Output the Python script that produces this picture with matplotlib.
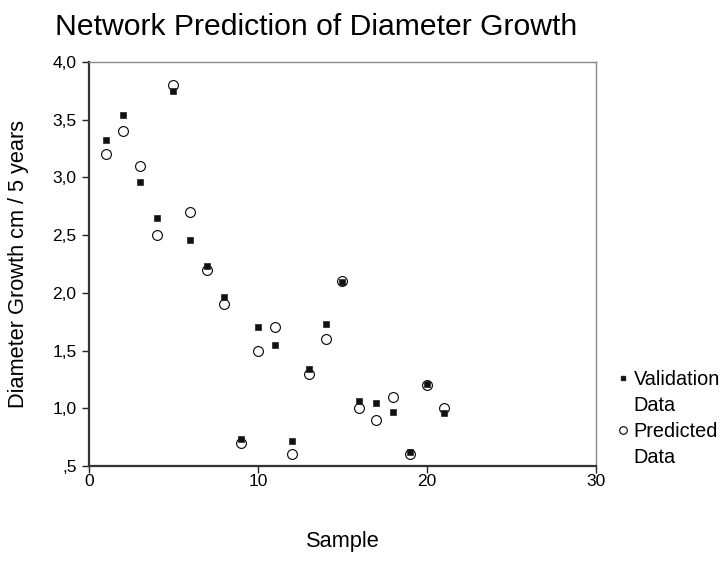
import numpy as np
import matplotlib
matplotlib.use("Agg")
import matplotlib.pyplot as plt
from matplotlib.lines import Line2D

plt.rcParams['font.family'] = ['Liberation Sans', 'DejaVu Sans']

# values
sample = [1, 2, 3, 4, 5, 6, 7, 8, 9, 10, 11, 12, 13, 14, 15, 16, 17, 18, 19, 20, 21]
validation = [3.32, 3.54, 2.96, 2.65, 3.75, 2.46, 2.23, 1.96, 0.73, 1.70, 1.55,
              0.72, 1.34, 1.73, 2.09, 1.06, 1.05, 0.97, 0.62, 1.21, 0.96]
predicted = [3.20, 3.40, 3.10, 2.50, 3.80, 2.70, 2.20, 1.90, 0.70, 1.50, 1.70,
             0.60, 1.30, 1.60, 2.10, 1.00, 0.90, 1.10, 0.60, 1.20, 1.00]

yticks = [0.5, 1.0, 1.5, 2.0, 2.5, 3.0, 3.5, 4.0]
ytick_labels = [',5', '1,0', '1,5', '2,0', '2,5', '3,0', '3,5', '4,0']
xticks = [0, 10, 20, 30]

fig = plt.figure(figsize=(7.23, 5.82), dpi=100)
ax = fig.add_axes([0.1231, 0.1993, 0.7012, 0.6942])

ax.scatter(sample, predicted, s=50, marker='o', facecolors='white',
           edgecolors='black', linewidths=0.8, zorder=2)
ax.scatter(sample, validation, s=18, marker='s', facecolors='#111111',
           edgecolors='#222222', linewidths=0.5, zorder=3)

ax.set_xlim(0, 30)
ax.set_ylim(0.5, 4.0)
ax.set_xticks(xticks)
ax.set_yticks(yticks)
ax.set_yticklabels(ytick_labels)
ax.tick_params(axis='both', direction='out', length=5, width=1, labelsize=12.5,
               colors='#222222', labelcolor='black')
ax.tick_params(axis='y', pad=4)
ax.tick_params(axis='x', pad=1)

for side in ['left', 'bottom']:
    ax.spines[side].set_linewidth(1.6)
    ax.spines[side].set_color('#333333')
for side in ['top', 'right']:
    ax.spines[side].set_linewidth(1.0)
    ax.spines[side].set_color('#888888')

ax.set_xlabel('Sample', fontsize=15.7)
ax.xaxis.set_label_coords(0.5, -0.162)
ax.set_ylabel('Diameter Growth cm / 5 years', fontsize=15.7)
ax.yaxis.set_label_coords(-0.118, 0.5)

fig.text(0.437, 0.953, 'Network Prediction of Diameter Growth', fontsize=21.7,
         ha='center', va='center')

handles = [
    Line2D([], [], linestyle='none', marker='s', markersize=3.5,
           markerfacecolor='#111111', markeredgecolor='#222222'),
    Line2D([], [], linestyle='none'),
    Line2D([], [], linestyle='none', marker='o', markersize=5.5,
           markerfacecolor='white', markeredgecolor='black', markeredgewidth=0.8),
    Line2D([], [], linestyle='none'),
]
labels = ['Validation', 'Data', 'Predicted', 'Data']
leg = fig.legend(handles, labels, loc='upper left', bbox_to_anchor=(0.853, 0.364),
                 frameon=False, fontsize=14.3, handlelength=0.6, handletextpad=0.25,
                 labelspacing=0.35, borderaxespad=0, borderpad=0)

fig.savefig('out.png', dpi=100)
